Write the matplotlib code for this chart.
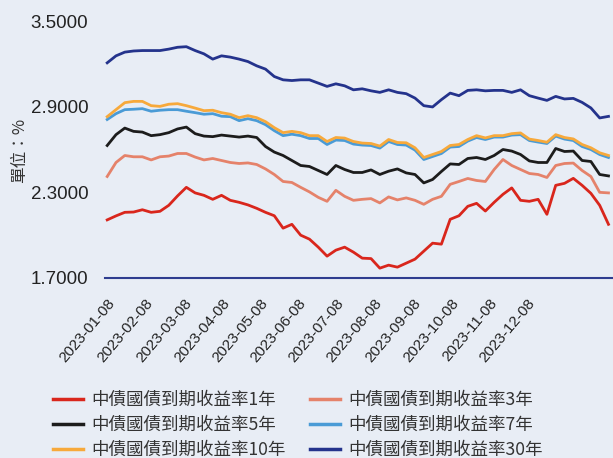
import numpy as np
import matplotlib
matplotlib.use("Agg")
import matplotlib.pyplot as plt

# weekly readings, 2023-01 .. 2024-02 (units: %)
y1 = [2.107, 2.135, 2.160, 2.162, 2.178, 2.160, 2.167, 2.209, 2.275, 2.335,
      2.296, 2.279, 2.251, 2.279, 2.244, 2.230, 2.212, 2.188, 2.160, 2.136,
      2.049, 2.076, 2.000, 1.972, 1.916, 1.853, 1.895, 1.916, 1.881, 1.839,
      1.836, 1.769, 1.790, 1.776, 1.804, 1.832, 1.888, 1.944, 1.937, 2.111,
      2.136, 2.202, 2.223, 2.169, 2.230, 2.286, 2.331, 2.244, 2.237, 2.251,
      2.146, 2.349, 2.363, 2.398, 2.349, 2.293, 2.209, 2.076]
y3 = [2.411, 2.509, 2.558, 2.549, 2.549, 2.527, 2.549, 2.554, 2.572, 2.572,
      2.547, 2.527, 2.537, 2.523, 2.509, 2.502, 2.506, 2.495, 2.464, 2.425,
      2.376, 2.369, 2.335, 2.303, 2.265, 2.237, 2.314, 2.272, 2.244, 2.251,
      2.256, 2.226, 2.268, 2.247, 2.261, 2.244, 2.216, 2.251, 2.272, 2.356,
      2.376, 2.397, 2.383, 2.376, 2.460, 2.530, 2.488, 2.460, 2.432, 2.425,
      2.404, 2.488, 2.502, 2.505, 2.453, 2.411, 2.300, 2.296]
y5 = [2.628, 2.704, 2.750, 2.727, 2.722, 2.697, 2.704, 2.718, 2.744, 2.757,
      2.711, 2.694, 2.690, 2.701, 2.694, 2.687, 2.694, 2.684, 2.621, 2.582,
      2.558, 2.523, 2.488, 2.481, 2.453, 2.425, 2.488, 2.460, 2.439, 2.439,
      2.457, 2.425, 2.448, 2.464, 2.436, 2.425, 2.366, 2.390, 2.446, 2.499,
      2.495, 2.537, 2.544, 2.530, 2.558, 2.600, 2.589, 2.565, 2.520, 2.509,
      2.509, 2.607, 2.586, 2.589, 2.523, 2.516, 2.425, 2.415]
y7 = [2.810, 2.851, 2.879, 2.882, 2.886, 2.868, 2.875, 2.879, 2.879, 2.868,
      2.858, 2.847, 2.851, 2.833, 2.830, 2.802, 2.816, 2.802, 2.774, 2.732,
      2.697, 2.707, 2.697, 2.677, 2.677, 2.635, 2.666, 2.663, 2.638, 2.631,
      2.628, 2.610, 2.656, 2.635, 2.631, 2.596, 2.530, 2.551, 2.572, 2.617,
      2.621, 2.659, 2.684, 2.670, 2.687, 2.687, 2.701, 2.704, 2.663, 2.652,
      2.642, 2.694, 2.673, 2.663, 2.621, 2.600, 2.565, 2.544]
y10 = [2.830, 2.879, 2.928, 2.937, 2.937, 2.907, 2.902, 2.917, 2.921, 2.907,
       2.890, 2.872, 2.875, 2.858, 2.847, 2.823, 2.837, 2.823, 2.795, 2.753,
       2.718, 2.727, 2.718, 2.697, 2.697, 2.656, 2.684, 2.680, 2.656, 2.645,
       2.642, 2.624, 2.670, 2.649, 2.647, 2.612, 2.544, 2.565, 2.586, 2.628,
       2.635, 2.670, 2.697, 2.681, 2.697, 2.697, 2.711, 2.716, 2.673, 2.663,
       2.651, 2.704, 2.684, 2.674, 2.635, 2.612, 2.577, 2.558]
y30 = [3.207, 3.256, 3.282, 3.290, 3.293, 3.293, 3.293, 3.303, 3.316, 3.320,
       3.293, 3.270, 3.233, 3.256, 3.247, 3.233, 3.216, 3.186, 3.163, 3.111,
       3.088, 3.083, 3.088, 3.088, 3.065, 3.042, 3.060, 3.046, 3.018, 3.025,
       3.011, 3.000, 3.018, 3.000, 2.991, 2.960, 2.907, 2.898, 2.949, 2.995,
       2.977, 3.014, 3.018, 3.011, 3.014, 3.014, 3.000, 3.018, 2.977, 2.960,
       2.944, 2.972, 2.954, 2.958, 2.930, 2.891, 2.821, 2.832]

tick_labels = ["2023-01-08", "2023-02-08", "2023-03-08", "2023-04-08",
               "2023-05-08", "2023-06-08", "2023-07-08", "2023-08-08",
               "2023-09-08", "2023-10-08", "2023-11-08", "2023-12-08"]
names = ["中債國債到期收益率1年", "中債國債到期收益率3年", "中債國債到期收益率5年",
         "中債國債到期收益率7年", "中債國債到期收益率10年", "中債國債到期收益率30年"]
colors = ["#d9261c", "#e5826a", "#1c1c1c", "#4a9bd6", "#f7a93b", "#24338c"]

W, H = 613, 458
fig = plt.figure(figsize=(W / 100, H / 100), dpi=100)
bg = "#e8edf5"
fig.patch.set_facecolor(bg)

left, right, top, bottom = 105, 612, 21, 278
ax = fig.add_axes([left / W, 1 - bottom / H, (right - left) / W, (bottom - top) / H])
ax.set_facecolor("none")

x = np.arange(len(y1))
series = [y1, y3, y5, y7, y10, y30]
lines = []
for vals, c, n in zip(series, colors, names):
    ln, = ax.plot(x, vals, color=c, lw=2.0, label=n, solid_joinstyle="round")
    lines.append(ln)

ax.set_xlim(-0.25, 57.4)
ax.set_ylim(1.7, 3.5)
yt = [1.7, 2.3, 2.9, 3.5]
ax.set_yticks(yt)
ax.set_yticklabels(["%.4f" % v for v in yt],
                   fontfamily="Liberation Sans", fontsize=13.5, color="#222222")

step = 38.2 / 8.8
ax.set_xticks(np.arange(len(tick_labels)) * step)
ax.set_xticklabels(tick_labels, rotation=50, ha="right", va="top",
                   rotation_mode="anchor", fontfamily="Liberation Sans",
                   fontsize=11, color="#222222")
ax.tick_params(axis="both", length=0)
ax.tick_params(axis="y", pad=12)
ax.tick_params(axis="x", pad=13)

for s in ["top", "right", "left"]:
    ax.spines[s].set_visible(False)
ax.spines["bottom"].set_color("#2e3d8f")
ax.spines["bottom"].set_linewidth(1.5)

fig.text(20 / W, 1 - 150 / H, "單位：%", rotation=90, ha="center", va="center",
         fontsize=12, color="#333333", family=["Noto Sans CJK TC", "DejaVu Sans"])

# legend fills row by row: 1Y 3Y / 5Y 7Y / 10Y 30Y
order = [0, 2, 4, 1, 3, 5]
leg = fig.legend([lines[i] for i in order], [names[i] for i in order],
                 loc="upper left", bbox_to_anchor=(53 / W, 1 - 391 / H), ncol=2,
                 frameon=False, prop={"family": ["Noto Sans CJK TC", "DejaVu Sans"], "size": 12.6},
                 handlelength=1.7, handletextpad=0.48, columnspacing=1.4,
                 labelspacing=0.4, borderpad=0, borderaxespad=0)
for t in leg.get_texts():
    t.set_color("#333333")
for h in leg.legend_handles:
    h.set_linewidth(2.5)

fig.savefig("out.png", dpi=100, facecolor=bg)
